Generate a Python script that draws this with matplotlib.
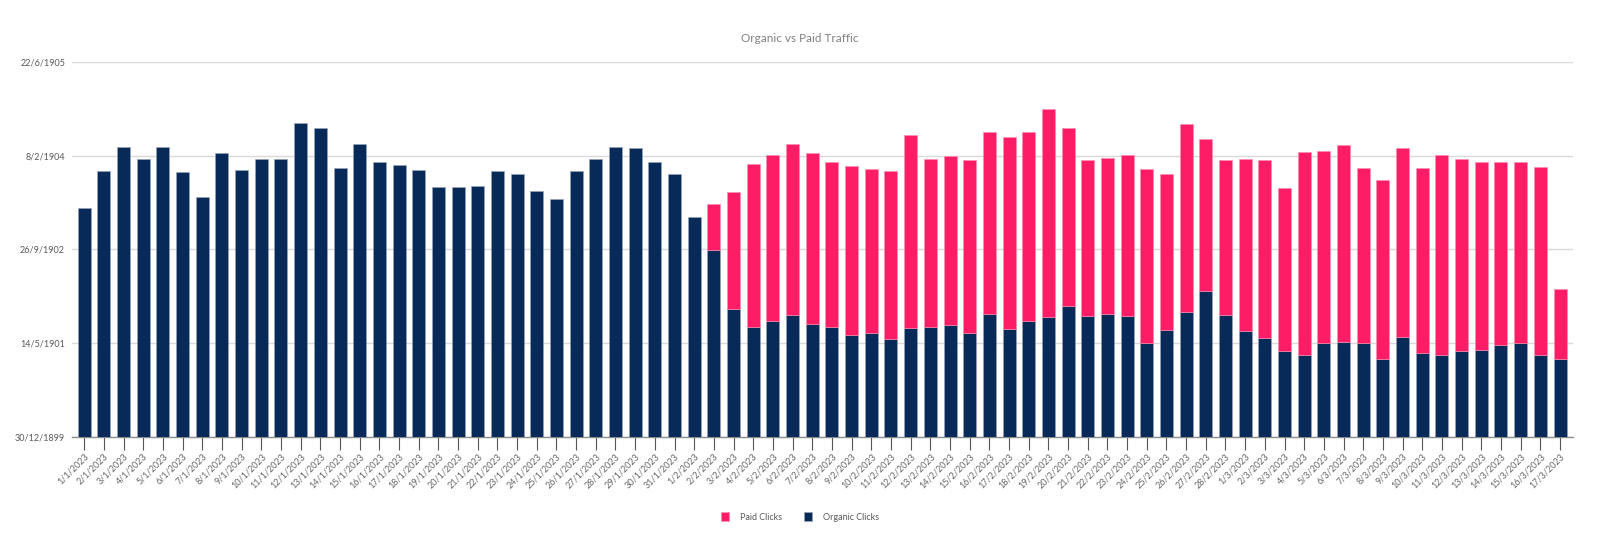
import matplotlib
matplotlib.use('Agg')
import matplotlib.pyplot as plt
from matplotlib.ticker import FuncFormatter
from matplotlib.patches import Patch
import datetime as dt

plt.rcParams['font.family'] = ['Lato', 'DejaVu Sans']

# days 1/1/2023 .. 17/3/2023
dates = [dt.date(2023, 1, 1) + dt.timedelta(days=i) for i in range(76)]
labels = [f'{d.day}/{d.month}/{d.year}' for d in dates]

organic = [1221, 1420, 1545, 1481, 1550, 1415, 1280, 1515, 1426, 1481,
           1481, 1676, 1650, 1435, 1564, 1467, 1451, 1426, 1335, 1335,
           1340, 1420, 1404, 1310, 1271, 1420, 1481, 1550, 1540, 1470,
           1404, 1173, 996, 683, 588, 617, 652, 603, 588, 542,
           553, 523, 583, 588, 594, 553, 658, 574, 617, 638,
           699, 644, 658, 644, 501, 571, 668, 779, 652, 564,
           528, 459, 434, 498, 507, 498, 414, 533, 448, 439,
           459, 464, 489, 498, 434, 414]

total = [1221, 1420, 1545, 1481, 1550, 1415, 1280, 1515, 1426, 1481,
         1481, 1676, 1650, 1435, 1564, 1467, 1451, 1426, 1335, 1335,
         1340, 1420, 1404, 1310, 1271, 1420, 1481, 1550, 1540, 1470,
         1404, 1173, 1244, 1305, 1458, 1506, 1564, 1515, 1470, 1445,
         1431, 1420, 1609, 1481, 1500, 1476, 1627, 1600, 1627, 1749,
         1650, 1476, 1490, 1506, 1431, 1401, 1671, 1589, 1476, 1481,
         1476, 1330, 1520, 1525, 1559, 1435, 1371, 1540, 1435, 1506,
         1484, 1470, 1465, 1470, 1440, 791]

paid = [t - o for t, o in zip(total, organic)]

navy = '#072a58'
pink = '#fd1d66'

fig = plt.figure(figsize=(16, 5.37), dpi=100)
ax = fig.add_axes([0.045, 0.1868, 0.938, 0.6972])

x = list(range(len(labels)))
ax.bar(x, organic, width=0.66, color=navy, edgecolor='#9aa6ba', linewidth=0.4, zorder=3)
paid_edges = ['#ff8fb0' if p > 0 else 'none' for p in paid]
ax.bar(x, paid, bottom=organic, width=0.66, color=pink, edgecolor=paid_edges, linewidth=0.4, zorder=3)

ax.set_xlim(-0.62, 75.65)
ax.set_ylim(0, 2000)
ax.set_yticks([0, 500, 1000, 1500, 2000])


def excel_date(v, pos):
    d = dt.date(1899, 12, 30) + dt.timedelta(days=int(v))
    return f'{d.day}/{d.month}/{d.year}'


ax.yaxis.set_major_formatter(FuncFormatter(excel_date))
ax.set_xticks(x)
ax.set_xticklabels(labels, rotation=45, ha='right', rotation_mode='anchor')

ax.grid(axis='y', color='#d9d9d9', linewidth=1.0, zorder=0)
for s in ['top', 'right', 'left']:
    ax.spines[s].set_visible(False)
ax.spines['bottom'].set_color('#8c8c8c')
ax.spines['bottom'].set_linewidth(1.0)

ax.tick_params(axis='y', length=0, pad=5, labelsize=6.5, labelcolor='#595959')
ax.tick_params(axis='x', length=9, width=0.8, color='#555555', pad=2,
               labelsize=6.5, labelcolor='#666666')

fig.suptitle('Organic vs Paid Traffic', y=0.938, fontsize=8.5, color='#808080')

handles = [Patch(facecolor=pink, edgecolor='#ff8fb0', linewidth=0.4, label='Paid Clicks'),
           Patch(facecolor=navy, edgecolor='#9aa6ba', linewidth=0.4, label='Organic Clicks')]
leg = fig.legend(handles=handles, loc='center', bbox_to_anchor=(0.5, 0.037), ncol=2,
                 frameon=False, fontsize=6.5, handlelength=0.9, handleheight=1.1,
                 columnspacing=2.5, handletextpad=1.2)
for t in leg.get_texts():
    t.set_color('#595959')

fig.savefig('out.png', dpi=100)
